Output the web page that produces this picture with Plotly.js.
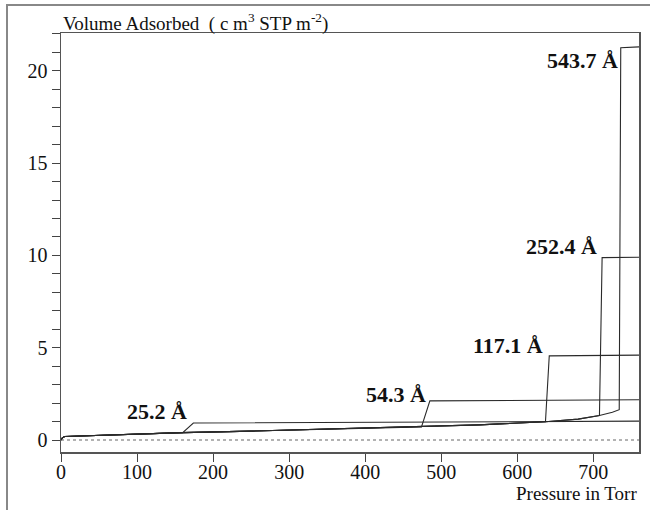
<!DOCTYPE html>
<html>
<head>
<meta charset="utf-8">
<script src="https://cdn.plot.ly/plotly-3.0.1.min.js"></script>
<style>
  html, body { margin: 0; padding: 0; background: #fff; }
  #wrap { position: relative; width: 650px; height: 510px; overflow: hidden; }
  #chart { width: 650px; height: 510px; }
  #frame { position: absolute; left: 6px; top: 4px; right: -10px; bottom: -10px;
           border-left: 2px solid #888; border-top: 2px solid #888; pointer-events: none; }
</style>
</head>
<body>
<div id="wrap">
  <div id="chart"></div>
  <div id="frame"></div>
</div>
<script>
// Shared adsorption branch (pressure in Torr, volume in cm3 STP m-2)
const basePressure = [0, 2, 5, 30, 65, 100, 160, 250, 350, 474, 550, 637, 680, 708, 725, 734];
const baseVolume   = [0, 0.13, 0.19, 0.23, 0.28, 0.33, 0.40, 0.48, 0.58, 0.71, 0.82, 0.99, 1.13, 1.33, 1.50, 1.64];

// Pore sizes and condensation pressures (jump start)
const poreLabels = ['25.2 Å', '54.3 Å', '117.1 Å', '252.4 Å', '543.7 Å'];
const jumpPressure = [160, 474, 637, 708, 734];

// Plateaus after capillary condensation
const plateauP_25 = [174, 450, 637, 760];
const plateauV_25 = [0.92, 0.96, 0.99, 1.02];
const plateauP_54 = [485, 600, 760];
const plateauV_54 = [2.12, 2.15, 2.18];
const plateauP_117 = [642, 760];
const plateauV_117 = [4.56, 4.60];
const plateauP_252 = [711.5, 760];
const plateauV_252 = [9.88, 9.90];
const plateauP_543 = [736, 760];
const plateauV_543 = [21.25, 21.30];

// Label anchor positions (right edge of label, data coords)
const labelX = [168, 482, 637, 708, 735];
const labelY = [1.55, 2.47, 5.12, 10.49, 20.55];

const plateausP = [plateauP_25, plateauP_54, plateauP_117, plateauP_252, plateauP_543];
const plateausV = [plateauV_25, plateauV_54, plateauV_117, plateauV_252, plateauV_543];

const SERIF = 'Liberation Serif';

const traces = [];
// zero reference dotted line
traces.push({x: [0, 760], y: [0, 0], mode: 'lines', line: {color: '#666', width: 1, dash: 'dot'}, hoverinfo: 'skip'});

for (let i = 0; i < poreLabels.length; i++) {
  const xs = [], ys = [];
  for (let k = 0; k < basePressure.length; k++) {
    if (basePressure[k] <= jumpPressure[i]) { xs.push(basePressure[k]); ys.push(baseVolume[k]); }
  }
  for (let k = 0; k < plateausP[i].length; k++) { xs.push(plateausP[i][k]); ys.push(plateausV[i][k]); }
  traces.push({x: xs, y: ys, mode: 'lines', name: poreLabels[i], line: {color: '#2a2a2a', width: 1.1}});
}

const annotations = poreLabels.map((t, i) => ({
  x: labelX[i], y: labelY[i], xref: 'x', yref: 'y', text: '<b>' + t + '</b>',
  showarrow: false, xanchor: 'right', yanchor: 'middle',
  font: {family: SERIF, size: 22, color: '#111'}
}));
annotations.push({
  x: 0, y: 1, yshift: -4, xref: 'paper', yref: 'paper', xanchor: 'left', yanchor: 'bottom',
  text: 'Volume Adsorbed  ( c m<sup>3</sup> STP m<sup>-2</sup>)', showarrow: false,
  font: {family: SERIF, size: 19, color: '#111'}
});
annotations.push({
  x: 1, y: -0.1, xref: 'paper', yref: 'paper', xanchor: 'right', yanchor: 'middle',
  text: 'Pressure in Torr', showarrow: false,
  font: {family: SERIF, size: 19, color: '#111'}
});

const layout = {
  width: 650, height: 510,
  margin: {l: 61, r: 11, t: 33, b: 58},
  paper_bgcolor: '#fff', plot_bgcolor: '#fff',
  showlegend: false,
  font: {family: SERIF},
  xaxis: {
    range: [0, 760], tickvals: [0, 100, 200, 300, 400, 500, 600, 700],
    ticks: 'outside', ticklen: 8, tickcolor: '#444', tickwidth: 1,
    ticklabelstandoff: -7,
    showline: true, mirror: true, linecolor: '#555', linewidth: 1.5,
    showgrid: false, zeroline: false,
    tickfont: {family: SERIF, size: 20, color: '#111'}
  },
  yaxis: {
    range: [-0.65, 22.05], tick0: 0, dtick: 5,
    ticks: 'outside', ticklen: 8, tickcolor: '#444', tickwidth: 1,
    minor: {dtick: 1, tick0: 0, ticks: 'outside', ticklen: 8, tickcolor: '#444', tickwidth: 1, showgrid: false},
    showline: true, mirror: true, linecolor: '#555', linewidth: 1.5,
    showgrid: false, zeroline: false,
    tickfont: {family: SERIF, size: 20, color: '#111'}
  },
  annotations: annotations
};

Plotly.newPlot('chart', traces, layout, {displayModeBar: false, staticPlot: true});
</script>
</body>
</html>
